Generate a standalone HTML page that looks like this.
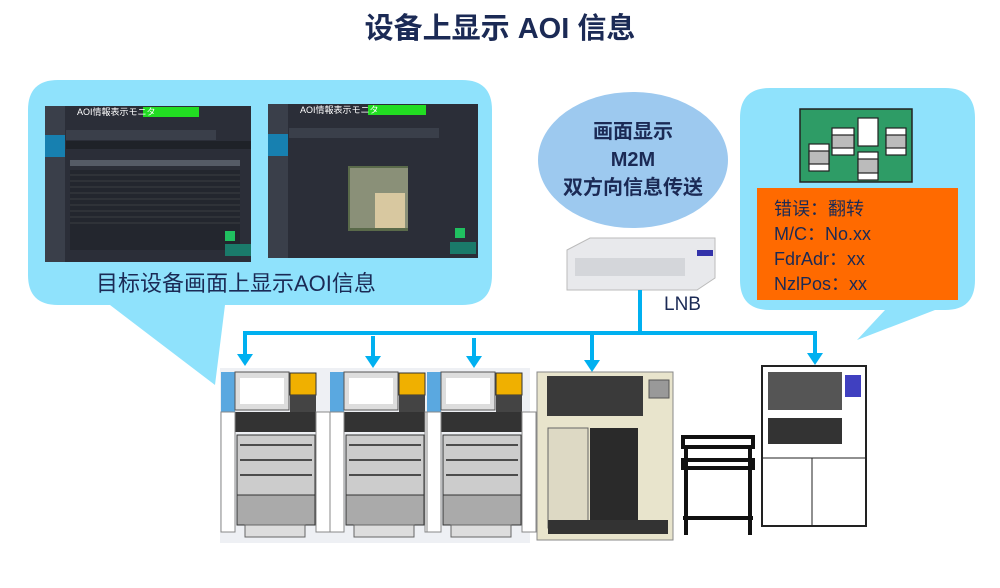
<!DOCTYPE html>
<html><head><meta charset="utf-8"><style>
body{margin:0;width:1000px;height:583px;background:#fff;overflow:hidden;font-family:"Liberation Sans","Noto Sans CJK SC",sans-serif}
</style></head><body>
<svg width="1000" height="583" viewBox="0 0 1000 583" xmlns="http://www.w3.org/2000/svg" font-family="Liberation Sans, Noto Sans CJK SC, sans-serif">
<text x="500" y="38" text-anchor="middle" font-size="29" font-weight="bold" fill="#1b2a55">设备上显示 AOI 信息</text>
<!-- left bubble -->
<path d="M58 80 H462 Q492 80 492 110 V275 Q492 305 462 305 H225 L215 385 L110 305 H58 Q28 305 28 275 V110 Q28 80 58 80Z" fill="#8fe2fc"/>
<!-- screen 1 -->
<g>
<rect x="45" y="106" width="206" height="156" fill="#2b2e38"/>
<rect x="45" y="106" width="20" height="156" fill="#3a3f4a"/>
<rect x="45" y="135" width="20" height="22" fill="#1780b0"/>
<rect x="143" y="107" width="56" height="10" fill="#22dd22"/>
<rect x="66" y="130" width="150" height="10" fill="#3a3f4a"/>
<rect x="66" y="141" width="185" height="8" fill="#1f2228"/>
<rect x="70" y="160" width="170" height="6" fill="#555b66"/>
<rect x="70" y="170" width="170" height="80" fill="#23262e"/>
<g stroke="#555" stroke-width="0.5"><line x1="70" y1="175" x2="240" y2="175"/><line x1="70" y1="181" x2="240" y2="181"/><line x1="70" y1="187" x2="240" y2="187"/><line x1="70" y1="193" x2="240" y2="193"/><line x1="70" y1="199" x2="240" y2="199"/><line x1="70" y1="205" x2="240" y2="205"/><line x1="70" y1="211" x2="240" y2="211"/><line x1="70" y1="217" x2="240" y2="217"/><line x1="70" y1="223" x2="240" y2="223"/></g>
<rect x="225" y="231" width="10" height="10" fill="#20c060"/>
<rect x="225" y="244" width="26" height="12" fill="#1a7a6a"/>
<text x="77" y="115" font-size="9" fill="#fff">AOI情報表示モニタ</text>
</g>
<!-- screen 2 -->
<g>
<rect x="268" y="104" width="210" height="154" fill="#2b2e38"/>
<rect x="268" y="104" width="20" height="154" fill="#3a3f4a"/>
<rect x="268" y="134" width="20" height="22" fill="#1780b0"/>
<rect x="368" y="105" width="58" height="10" fill="#22dd22"/>
<rect x="289" y="128" width="150" height="10" fill="#3a3f4a"/>
<rect x="348" y="166" width="60" height="65" fill="#5a6a4a"/>
<rect x="350" y="168" width="58" height="60" fill="#8a9078"/>
<rect x="375" y="193" width="30" height="35" fill="#d8c8a0"/>
<rect x="455" y="228" width="10" height="10" fill="#20c060"/>
<rect x="450" y="242" width="26" height="12" fill="#1a7a6a"/>
<text x="300" y="113" font-size="9" fill="#fff">AOI情報表示モニタ</text>
</g>
<text x="96" y="291" font-size="22" fill="#1b2a55">目标设备画面上显示AOI信息</text>
<!-- ellipse -->
<ellipse cx="633" cy="160" rx="95" ry="68" fill="#9dc9ef"/>
<text x="633" y="138" text-anchor="middle" font-size="20" font-weight="bold" fill="#1b2a55">画面显示</text>
<text x="633" y="166" text-anchor="middle" font-size="20" font-weight="bold" fill="#1b2a55">M2M</text>
<text x="633" y="194" text-anchor="middle" font-size="20" font-weight="bold" fill="#1b2a55">双方向信息传送</text>
<!-- LNB -->
<path d="M567 250 L590 238 H715 V278 L697 290 H567Z" fill="#e8e9ec" stroke="#bbb"/>
<rect x="575" y="258" width="110" height="18" fill="#d4d6da"/>
<rect x="697" y="250" width="16" height="6" fill="#33a"/>
<text x="664" y="310" font-size="19" fill="#1b2a55">LNB</text>
<!-- right bubble -->
<path d="M770 88 H945 Q975 88 975 118 V280 Q975 310 945 310 H935 L857 340 L885 310 H770 Q740 310 740 280 V118 Q740 88 770 88Z" fill="#8fe2fc"/>
<rect x="800" y="109" width="112" height="73" fill="#2e9c66" stroke="#222" stroke-width="1.5"/>
<g stroke="#222" stroke-width="1.2"><rect x="809" y="144" width="20" height="27" fill="#fff"/><rect x="809" y="151" width="20" height="13" fill="#bbb"/>
<rect x="832" y="128" width="22" height="27" fill="#fff"/><rect x="832" y="135" width="22" height="13" fill="#bbb"/>
<rect x="858" y="118" width="20" height="28" fill="#fff"/>
<rect x="858" y="152" width="20" height="28" fill="#fff"/><rect x="858" y="159" width="20" height="14" fill="#bbb"/>
<rect x="886" y="128" width="20" height="27" fill="#fff"/><rect x="886" y="135" width="20" height="13" fill="#bbb"/></g>
<rect x="757" y="188" width="201" height="112" fill="#ff6a00"/>
<g font-size="18" fill="#1b2a55"><text x="774" y="215">错误：翻转</text><text x="774" y="240">M/C：No.xx</text><text x="774" y="265">FdrAdr：xx</text><text x="774" y="290">NzlPos：xx</text></g>
<!-- connectors -->
<g stroke="#00b0f0" stroke-width="4" fill="none"><path d="M640 290 V333 M245 333 H815 M245 331 V356 M815 331 V355 M373 336 V358 M474 338 V358 M592 331 V362"/></g>
<g fill="#00b0f0"><path d="M237 354 L253 354 L245 366Z"/><path d="M807 353 L823 353 L815 365Z"/><path d="M365 356 L381 356 L373 368Z"/><path d="M466 356 L482 356 L474 368Z"/><path d="M584 360 L600 360 L592 372Z"/></g>
<!-- machines -->
<g>
<rect x="220" y="368" width="112" height="175" fill="#eef0f4"/>
<rect x="330" y="368" width="98" height="175" fill="#eef0f4"/>
<rect x="426" y="368" width="104" height="175" fill="#eef0f4"/>
</g>
<g id="m">
<rect x="221" y="372" width="14" height="40" fill="#5aa8e0"/>
<rect x="235" y="372" width="54" height="38" fill="#ddd" stroke="#555"/>
<rect x="240" y="378" width="44" height="26" fill="#fff"/>
<rect x="290" y="373" width="26" height="22" fill="#f0b000" stroke="#333"/>
<rect x="290" y="395" width="26" height="18" fill="#444"/>
<rect x="235" y="412" width="84" height="20" fill="#333"/>
<rect x="221" y="412" width="14" height="120" fill="#fff" stroke="#888"/>
<rect x="316" y="412" width="14" height="120" fill="#fff" stroke="#888"/>
<rect x="237" y="435" width="78" height="60" fill="#ccc" stroke="#333"/>
<g stroke="#222" stroke-width="1.5"><line x1="240" y1="445" x2="312" y2="445"/><line x1="240" y1="460" x2="312" y2="460"/><line x1="240" y1="475" x2="312" y2="475"/></g>
<rect x="237" y="495" width="78" height="30" fill="#aaa" stroke="#333"/>
<rect x="245" y="525" width="60" height="12" fill="#ddd" stroke="#666"/>
</g>
<use href="#m" x="109"/>
<use href="#m" x="206"/>
<!-- machine 4 -->
<rect x="537" y="372" width="136" height="168" fill="#e8e4cc" stroke="#888"/>
<rect x="547" y="376" width="96" height="40" fill="#3a3a3a"/>
<rect x="649" y="380" width="20" height="18" fill="#999" stroke="#555"/>
<rect x="548" y="428" width="40" height="100" fill="#ddd9c4" stroke="#666"/>
<rect x="590" y="428" width="48" height="100" fill="#2a2a2a"/>
<rect x="548" y="520" width="120" height="14" fill="#333"/>
<!-- cart -->
<g stroke="#111" stroke-width="4" fill="none"><rect x="683" y="437" width="70" height="10"/><rect x="683" y="460" width="70" height="8"/><line x1="686" y1="447" x2="686" y2="535"/><line x1="750" y1="447" x2="750" y2="535"/><line x1="683" y1="518" x2="753" y2="518"/></g>
<!-- machine 5 -->
<rect x="762" y="366" width="104" height="160" fill="#fff" stroke="#222" stroke-width="2"/>
<rect x="768" y="372" width="74" height="38" fill="#555"/>
<rect x="845" y="375" width="16" height="22" fill="#4040c0"/>
<rect x="768" y="418" width="74" height="26" fill="#333"/>
<line x1="762" y1="458" x2="866" y2="458" stroke="#222"/>
<line x1="812" y1="458" x2="812" y2="526" stroke="#222"/>
</svg>
</body></html>
